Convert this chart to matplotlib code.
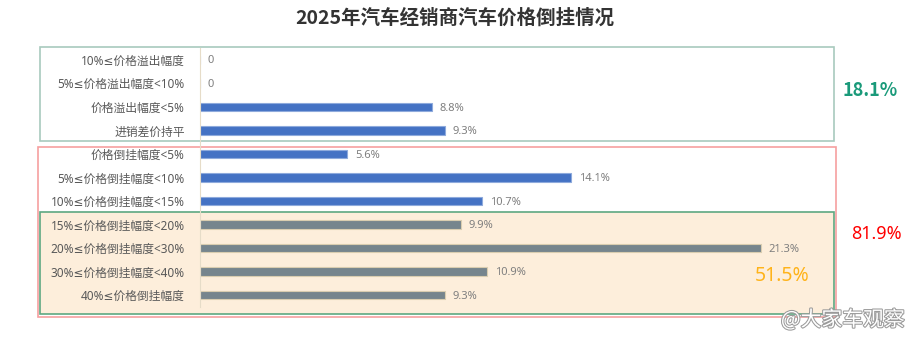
import matplotlib.pyplot as plt
import matplotlib.patheffects as pe
from matplotlib.patches import Rectangle

plt.rcParams['font.family'] = ['Noto Sans', 'DejaVu Sans', 'Noto Sans CJK SC']

# 各区间经销商占比(%)
categories = ['10%≤价格溢出幅度', '5%≤价格溢出幅度<10%', '价格溢出幅度<5%', '进销差价持平',
              '价格倒挂幅度<5%', '5%≤价格倒挂幅度<10%', '10%≤价格倒挂幅度<15%',
              '15%≤价格倒挂幅度<20%', '20%≤价格倒挂幅度<30%', '30%≤价格倒挂幅度<40%',
              '40%≤价格倒挂幅度']
values = [0, 0, 8.8, 9.3, 5.6, 14.1, 10.7, 9.9, 21.3, 10.9, 9.3]
value_labels = ['0', '0', '8.8%', '9.3%', '5.6%', '14.1%', '10.7%', '9.9%', '21.3%', '10.9%', '9.3%']
group_labels = ['18.1%', '81.9%', '51.5%']

W, H = 917, 339
fig = plt.figure(figsize=(W / 100, H / 100), dpi=100)

def px_rect(x0, y0, x1, y1, **kw):
    # 以像素坐标(左上为原点)画框
    r = Rectangle((x0 / W, 1 - y1 / H), (x1 - x0) / W, (y1 - y0) / H,
                  transform=fig.transFigure, **kw)
    fig.patches.append(r)

px_rect(40, 212, 834, 314, facecolor='#fdeedb', edgecolor='#5ea882', lw=1.2, zorder=0)
px_rect(40, 47, 834, 141, facecolor='none', edgecolor='#a8cabd', lw=1.2, zorder=0)
px_rect(38, 147, 836, 317, facecolor='none', edgecolor='#f6a0a0', lw=1.2, zorder=0)

ax = fig.add_axes([200 / W, 1 - 307 / H, 632 / W, 259 / H])
ax.set_zorder(1)
ax.patch.set_alpha(0)

colors = ['#4472c4'] * 7 + ['#76858d'] * 4
edges = ['#8eaadc'] * 7 + ['#d9cdb0'] * 4
y = list(range(len(categories)))
bars = ax.barh(y, values, height=0.36, color=colors, edgecolor=edges, linewidth=0.8)

for b, lab in zip(bars, value_labels):
    ax.text(b.get_width() + 0.3, b.get_y() + b.get_height() / 2 + 0.05, lab,
            va='center', ha='left', fontsize=8, color='#7f7f7f')

ax.set_xlim(0, 24)
ax.set_ylim(10.5, -0.5)
ax.set_yticks(y)
ax.set_yticklabels(categories, fontsize=8.5, color='#595959')
ax.tick_params(axis='y', length=0, pad=11)
ax.set_xticks([])
for s in ['top', 'right', 'bottom']:
    ax.spines[s].set_visible(False)
ax.spines['left'].set_color('#e6dcc8')
ax.spines['left'].set_linewidth(0.8)

cjk = ['Noto Sans CJK SC', 'DejaVu Sans']
fig.text(455 / W, 1 - 18 / H, '2025年汽车经销商汽车价格倒挂情况', ha='center', va='center',
         fontsize=14, fontweight='bold', color='#333333', family=cjk)

fig.text(870 / W, 1 - 90 / H, group_labels[0], ha='center', va='center',
         fontsize=13, fontweight='bold', color='#1a9a7a', family=cjk)
fig.text(876 / W, 1 - 234 / H, group_labels[1], ha='center', va='center',
         fontsize=13, color='#ff0000')
fig.text(782 / W, 1 - 276 / H, group_labels[2], ha='center', va='center',
         fontsize=14, color='#ffb31a')

fig.text(905 / W, 1 - 320 / H, '@大家车观察', ha='right', va='center', fontsize=15,
         color='white', family=cjk,
         path_effects=[pe.withStroke(linewidth=1.5, foreground='#9a9a9a')])

fig.savefig('out.png', dpi=100)
